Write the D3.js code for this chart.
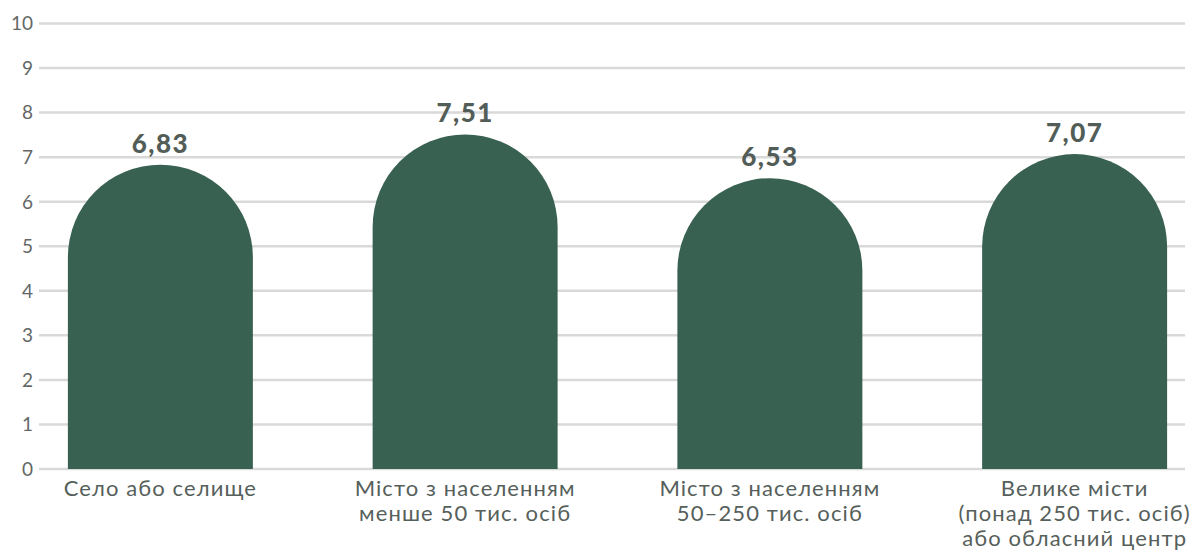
<!DOCTYPE html>
<html>
<head>
<meta charset="utf-8">
<script src="https://cdn.jsdelivr.net/npm/d3@7.9.0/dist/d3.min.js"></script>
<style>
  body { margin: 0; background: #fff; }
  svg text { font-family: Lato, "Noto Sans", sans-serif; }
</style>
</head>
<body>
<svg id="chart" width="1195" height="553"></svg>
<script>
// data
const categories = [
  ['Село або селище'],
  ['Місто з населенням', 'менше 50 тис. осіб'],
  ['Місто з населенням', '50–250 тис. осіб'],
  ['Велике місти', '(понад 250 тис. осіб)', 'або обласний центр']
];
const values = [6.83, 7.51, 6.53, 7.07];
const labels = ['6,83', '7,51', '6,53', '7,07'];
const yTicks = [0, 1, 2, 3, 4, 5, 6, 7, 8, 9, 10];

const svg = d3.select('#chart');
const barColor = '#386151';

let x = d3.scaleBand()
  .domain(d3.range(values.length))
  .range([8, 1227])
  .paddingInner(0.393)
  .paddingOuter(0.1965);

let y = d3.scaleLinear().domain([0, 10]).range([469, 23.5]);

// gridlines
svg.append('g')
  .selectAll('line')
  .data(yTicks)
  .join('line')
  .attr('x1', 39)
  .attr('x2', 1185)
  .attr('y1', (d) => y(d))
  .attr('y2', (d) => y(d))
  .attr('stroke', '#d9d9d9')
  .attr('stroke-width', 2.5);

// y tick labels
svg.append('g')
  .selectAll('text')
  .data(yTicks)
  .join('text')
  .attr('x', 33)
  .attr('y', (d) => y(d))
  .attr('dy', '0.36em')
  .attr('text-anchor', 'end')
  .attr('fill', '#636866')
  .attr('font-size', 19)
  .text((d) => d);

// bars with half-circle tops
function barPath(v, i) {
  const x0 = x(i);
  const w = x.bandwidth();
  const r = w / 2;
  const top = y(v);
  const base = y(0);
  return `M${x0},${base} L${x0},${top + r} A${r},${r} 0 0 1 ${x0 + w},${top + r} L${x0 + w},${base} Z`;
}

svg.append('g')
  .selectAll('path')
  .data(values)
  .join('path')
  .attr('d', (d, i) => barPath(d, i))
  .attr('fill', barColor);

// value labels
svg.append('g')
  .selectAll('text')
  .data(values)
  .join('text')
  .attr('x', (d, i) => x(i) + x.bandwidth() / 2)
  .attr('y', (d) => y(d) - 12)
  .attr('text-anchor', 'middle')
  .attr('fill', '#535d58')
  .attr('font-size', 26)
  .attr('font-weight', 900)
  .attr('letter-spacing', 1.5)
  .text((d, i) => labels[i]);

// category labels, one text per line
const catG = svg.append('g');
categories.forEach((lines, i) => {
  lines.forEach((line, j) => {
    catG.append('text')
      .attr('x', x(i) + x.bandwidth() / 2)
      .attr('y', 496 + j * 25)
      .attr('text-anchor', 'middle')
      .attr('fill', '#56605b')
      .attr('font-size', 22)
      .attr('letter-spacing', 1.1)
      .text(line);
  });
});
</script>
</body>
</html>
